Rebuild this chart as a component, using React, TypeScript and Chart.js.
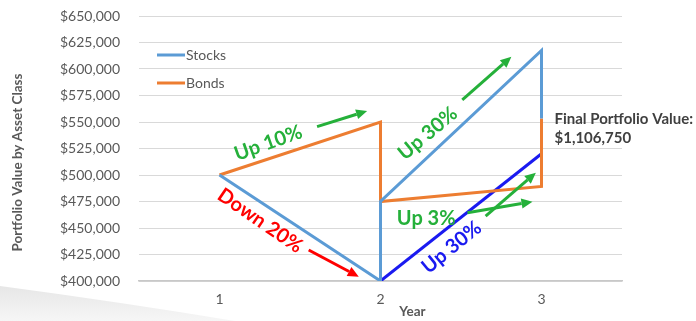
import { useEffect, useRef } from 'react';
import { Chart, registerables } from 'chart.js';
Chart.register(...registerables);

// ---- data ----
const years = [1, 2, 3];
const yTickValues = [400000, 425000, 450000, 475000, 500000, 525000, 550000, 575000, 600000, 625000, 650000];
const stocksX = [1, 2, 2, 3, 3];
const stocksY = [500000, 400000, 475000, 617500, 553375];
const bondsX = [1, 2, 2, 3, 3];
const bondsY = [500000, 550000, 475000, 489250, 553375];
const noRebalanceX = [2, 3];
const noRebalanceY = [400000, 520000];
const finalValueLabel = ['Final Portfolio Value:', '$1,106,750'];

// annotation labels (data coordinates)
const noteTexts = ['Up 10%', 'Down 20%', 'Up 30%', 'Up 3%', 'Up 30%'];
const noteX = [1.303, 1.253, 2.294, 2.284, 2.442];
const noteY = [530200, 456900, 539300, 458500, 431800];
const noteAngle = [-19.7, 34.5, -40, 0, -39.3];
const noteColor = ['#25B03A', '#FF0000', '#25B03A', '#25B03A', '#1A1AF0'];

// arrows (data coordinates): from -> to
const arrowFromX = [1.606, 1.554, 2.508, 2.54, 2.653];
const arrowFromY = [545600, 429200, 570800, 464400, 461300];
const arrowToX = [1.917, 1.865, 2.813, 2.944, 2.965];
const arrowToY = [560400, 404100, 611600, 474800, 502200];
const arrowColor = ['#25B03A', '#FF0000', '#25B03A', '#25B03A', '#25B03A'];

const FONT = 'Lato, "Open Sans", sans-serif';

function drawArrow(ctx: CanvasRenderingContext2D, x0: number, y0: number, x1: number, y1: number, color: string) {
  const ang = Math.atan2(y1 - y0, x1 - x0);
  const hl = 11, hw = 5;
  const bx = x1 - hl * Math.cos(ang), by = y1 - hl * Math.sin(ang);
  ctx.save();
  ctx.strokeStyle = color;
  ctx.fillStyle = color;
  ctx.lineWidth = 3;
  ctx.beginPath();
  ctx.moveTo(x0, y0);
  ctx.lineTo(bx, by);
  ctx.stroke();
  ctx.beginPath();
  ctx.moveTo(x1, y1);
  ctx.lineTo(bx + hw * Math.sin(ang), by - hw * Math.cos(ang));
  ctx.lineTo(bx - hw * Math.sin(ang), by + hw * Math.cos(ang));
  ctx.closePath();
  ctx.fill();
  ctx.restore();
}

const overlay = {
  id: 'overlay',
  beforeDraw(chart: any) {
    const ctx = chart.ctx as CanvasRenderingContext2D;
    ctx.save();
    const g = ctx.createLinearGradient(0, 285, 0, 321);
    g.addColorStop(0, '#E6E6E6');
    g.addColorStop(1, '#F6F6F6');
    ctx.fillStyle = g;
    ctx.beginPath();
    ctx.moveTo(0, 286);
    ctx.quadraticCurveTo(120, 302, 235, 321);
    ctx.lineTo(0, 321);
    ctx.closePath();
    ctx.fill();
    ctx.restore();
  },
  afterDatasetsDraw(chart: any) {
    const ctx = chart.ctx as CanvasRenderingContext2D;
    const xs = chart.scales.x, ys = chart.scales.y;
    const area = chart.chartArea;
    // arrows
    for (let i = 0; i < arrowFromX.length; i++) {
      drawArrow(ctx, xs.getPixelForValue(arrowFromX[i]), ys.getPixelForValue(arrowFromY[i]),
        xs.getPixelForValue(arrowToX[i]), ys.getPixelForValue(arrowToY[i]), arrowColor[i]);
    }
    // notes
    for (let i = 0; i < noteTexts.length; i++) {
      ctx.save();
      ctx.translate(xs.getPixelForValue(noteX[i]), ys.getPixelForValue(noteY[i]));
      ctx.rotate((noteAngle[i] * Math.PI) / 180);
      ctx.font = `bold 20px ${FONT}`;
      ctx.fillStyle = noteColor[i];
      ctx.textAlign = 'center';
      ctx.textBaseline = 'middle';
      ctx.fillText(noteTexts[i], 0, 0);
      ctx.restore();
    }
    // legend
    const legendItems = [
      { label: chart.data.datasets[0].label, color: chart.data.datasets[0].borderColor },
      { label: chart.data.datasets[1].label, color: chart.data.datasets[1].borderColor },
    ];
    ctx.save();
    ctx.font = `14px ${FONT}`;
    ctx.textBaseline = 'middle';
    ctx.textAlign = 'left';
    legendItems.forEach((it, i) => {
      const y = area.top + 39 + i * 28;
      const x = area.left + 18;
      ctx.strokeStyle = it.color;
      ctx.lineWidth = 3;
      ctx.beginPath();
      ctx.moveTo(x, y);
      ctx.lineTo(x + 28, y);
      ctx.stroke();
      ctx.fillStyle = '#595959';
      ctx.fillText(it.label, x + 29, y);
    });
    ctx.restore();
    // final value
    ctx.save();
    ctx.font = `bold 15px ${FONT}`;
    ctx.fillStyle = '#404040';
    ctx.textAlign = 'left';
    ctx.textBaseline = 'middle';
    const fx = xs.getPixelForValue(3) + 13;
    const fy = ys.getPixelForValue(552800);
    finalValueLabel.forEach((t, i) => ctx.fillText(t, fx, fy + i * 19));
    ctx.restore();
    // axis titles
    ctx.save();
    ctx.font = `bold 13.5px ${FONT}`;
    ctx.fillStyle = '#595959';
    ctx.textAlign = 'center';
    ctx.textBaseline = 'middle';
    ctx.fillText('Year', area.left + (area.right - area.left) / 2 + 32, 312);
    ctx.translate(18, (area.top + area.bottom) / 2 + 14);
    ctx.rotate(-Math.PI / 2);
    ctx.fillText('Portfolio Value by Asset Class', 0, 0);
    ctx.restore();
  },
};

export default function App() {
  const ref = useRef<HTMLCanvasElement | null>(null);
  useEffect(() => {
    document.body.style.margin = '0';
    const canvas = ref.current!;
    const chart = new Chart(canvas, {
      type: 'line',
      data: {
        datasets: [
          {
            label: 'Stocks',
            data: stocksX.map((x, i) => ({ x, y: stocksY[i] })),
            borderColor: '#5B9BD5',
            borderWidth: 3,
            pointRadius: 0,
            tension: 0,
          },
          {
            label: 'Bonds',
            data: bondsX.map((x, i) => ({ x, y: bondsY[i] })),
            borderColor: '#ED7D31',
            borderWidth: 3,
            pointRadius: 0,
            tension: 0,
          },
          {
            label: 'Without rebalancing',
            data: noRebalanceX.map((x, i) => ({ x, y: noRebalanceY[i] })),
            borderColor: '#1A1AF0',
            borderWidth: 3,
            pointRadius: 0,
            tension: 0,
          },
        ],
      },
      options: {
        responsive: false,
        animation: false,
        devicePixelRatio: 1,
        layout: { padding: { top: 16, right: 74, left: 0, bottom: 0 } },
        plugins: { legend: { display: false }, tooltip: { enabled: false } },
        scales: {
          x: {
            type: 'linear',
            min: 0.5,
            max: 3.5,
            afterBuildTicks: (s: any) => { s.ticks = years.map((v) => ({ value: v })); },
            ticks: { color: '#595959', font: { family: FONT, size: 14 }, padding: 10, callback: (v: any) => String(v) },
            grid: { display: false, drawTicks: false },
            border: { display: true, color: '#C8C8C8', width: 1.5 },
            afterFit: (s: any) => { s.height = 40; },
          },
          y: {
            min: 400000,
            max: 650000,
            afterBuildTicks: (s: any) => { s.ticks = yTickValues.map((v) => ({ value: v })); },
            ticks: {
              color: '#595959',
              font: { family: FONT, size: 14 },
              padding: 0,
              callback: (v: any) => '$' + Number(v).toLocaleString('en-US'),
            },
            grid: { color: '#D9D9D9', drawTicks: true, tickLength: 19, tickColor: 'rgba(0,0,0,0)' },
            border: { display: false },
            afterFit: (s: any) => { s.width = 139; },
          },
        },
      },
      plugins: [overlay],
    } as any);
    return () => chart.destroy();
  }, []);
  return (
    <div style={{ width: 696, height: 321, background: '#fff' }}>
      <canvas ref={ref} width={696} height={321} style={{ display: 'block' }} />
    </div>
  );
}
